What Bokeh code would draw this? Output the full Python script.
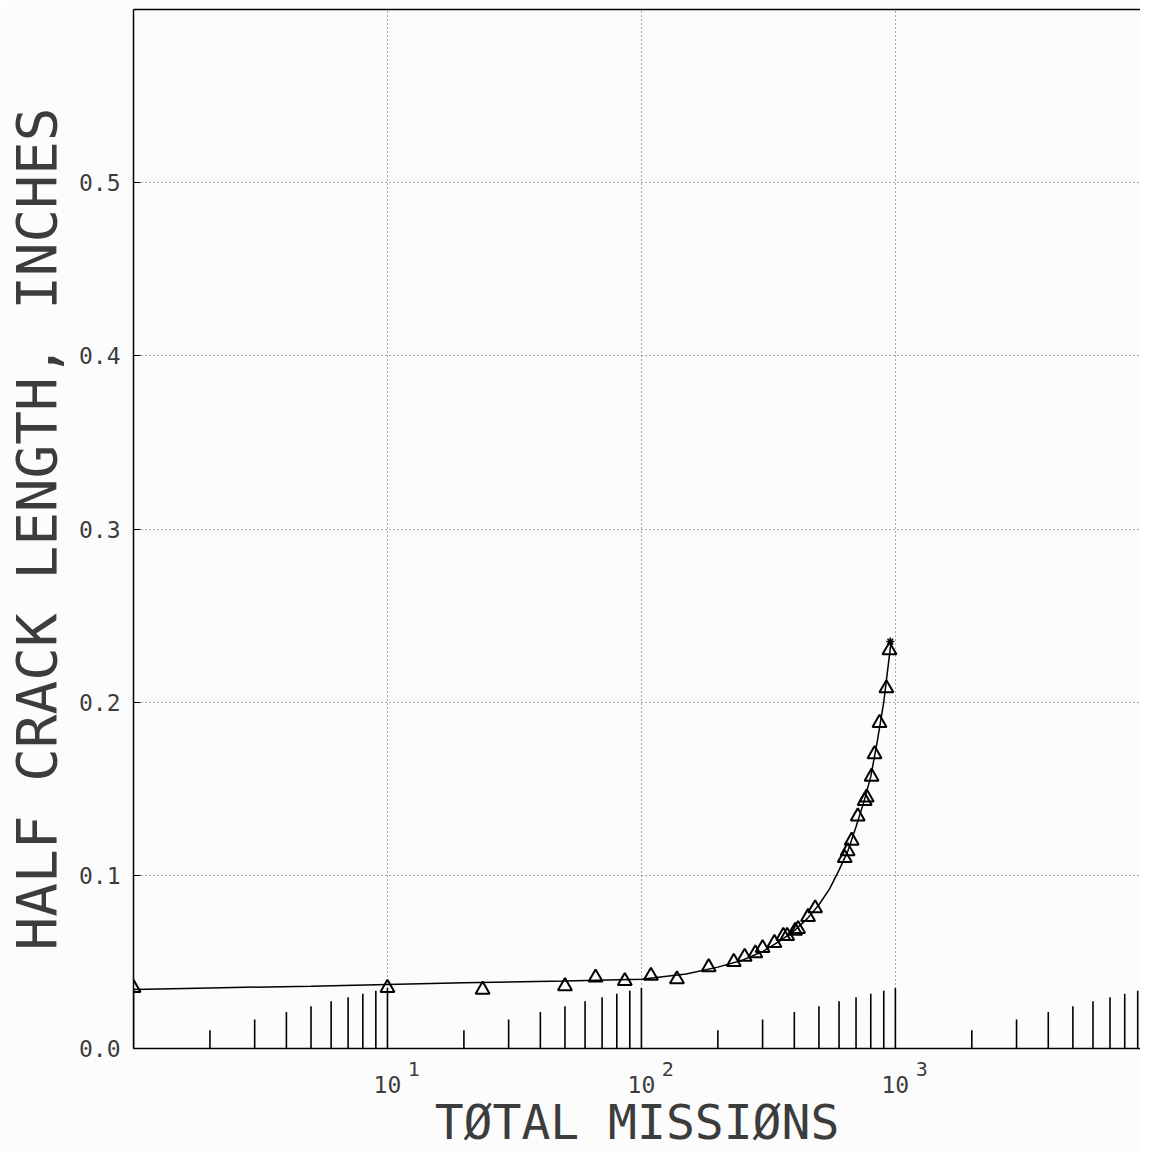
import math
from bokeh.plotting import figure
from bokeh.models import FixedTicker, LinearAxis, LogAxis
from bokeh.embed import file_html
from bokeh.resources import INLINE

# ---- data ----
point_missions = [1, 10, 23.7, 50, 66, 86, 109, 138, 184, 231, 255, 281, 300, 334,
                  362, 375, 403, 414, 453, 483, 632, 649, 673, 711, 757, 771, 806,
                  828, 866, 922, 948]
point_crack = [0.035, 0.035, 0.034, 0.036, 0.041, 0.039, 0.042, 0.040, 0.047, 0.050,
               0.053, 0.055, 0.058, 0.061, 0.065, 0.065, 0.068, 0.069, 0.076, 0.081,
               0.110, 0.114, 0.120, 0.134, 0.143, 0.145, 0.157, 0.170, 0.188, 0.208,
               0.230]
end_missions = [955]
end_crack = [0.235]

curve_missions = [1, 2, 5, 10, 20, 50, 100, 150, 200, 250, 300, 350, 400, 450, 500,
                  550, 600, 650, 700, 750, 800, 850, 900, 960]
curve_crack = [0.034, 0.035, 0.036, 0.037, 0.038, 0.039, 0.040, 0.043, 0.047, 0.051,
               0.056, 0.062, 0.068, 0.075, 0.083, 0.092, 0.103, 0.114, 0.128, 0.142,
               0.157, 0.178, 0.200, 0.234]

x_major_ticks = [10, 100, 1000]
x_tick_base = ["10", "10", "10"]
x_tick_exponents = ["1", "2", "3"]
y_ticks = [0.0, 0.1, 0.2, 0.3, 0.4, 0.5]
y_tick_labels = ["0.0", "0.1", "0.2", "0.3", "0.4", "0.5"]
decades = [1, 10, 100, 1000]
multipliers = [1, 2, 3, 4, 5, 6, 7, 8, 9]

FONT = "DejaVu Sans Mono"
TXT = "#3c3c3c"
BG = "#fcfcfc"
EXP_SHIFT = 1.27   # exponent drawn a little right of its decade tick

p = figure(width=1140, height=1152, x_axis_type="log",
           x_range=(1, 9230), y_range=(0, 0.6),
           output_backend="svg", toolbar_location=None,
           background_fill_color=BG, border_fill_color=BG,
           min_border_left=125, min_border_right=0, min_border_top=9,
           min_border_bottom=100)
p.outline_line_color = None

# grid
p.xgrid.ticker = FixedTicker(ticks=x_major_ticks)
p.ygrid.ticker = FixedTicker(ticks=y_ticks[1:])
for g in (p.xgrid, p.ygrid):
    g.grid_line_color = "#555555"
    g.grid_line_dash = "1 3"
    g.grid_line_width = 1

# x axis (nearest the frame): carries the axis line and the exponents
xa = p.xaxis[0]
exp_ticks = [t * EXP_SHIFT for t in x_major_ticks]
xa.ticker = FixedTicker(ticks=exp_ticks)
xa.major_label_overrides = {t: e for t, e in zip(exp_ticks, x_tick_exponents)}
xa.major_tick_in = 0
xa.major_tick_out = 0
xa.minor_tick_in = 0
xa.minor_tick_out = 0
xa.major_label_standoff = 13
xa.major_label_text_font = FONT
xa.major_label_text_font_size = "20px"
xa.major_label_text_color = TXT
xa.axis_line_color = "black"
xa.axis_line_width = 1.5

# second x axis: the "10" of each decade label and the title
xb = LogAxis(ticker=FixedTicker(ticks=x_major_ticks),
             major_label_overrides={t: b for t, b in zip(x_major_ticks, x_tick_base)},
             major_tick_in=0, major_tick_out=0, minor_tick_in=0, minor_tick_out=0,
             major_label_standoff=-3, major_label_text_font=FONT,
             major_label_text_font_size="23px", major_label_text_color=TXT,
             axis_line_color=None,
             axis_label="TØTAL MISSIØNS", axis_label_text_font=FONT,
             axis_label_text_font_size="48px", axis_label_text_font_style="normal",
             axis_label_text_color=TXT, axis_label_standoff=-2)
p.add_layout(xb, "below")

# y axis
ya = p.yaxis[0]
ya.ticker = FixedTicker(ticks=y_ticks)
ya.major_label_overrides = {t: l for t, l in zip(y_ticks, y_tick_labels)}
ya.major_tick_in = 7
ya.major_tick_out = 0
ya.minor_tick_in = 0
ya.minor_tick_out = 0
ya.major_tick_line_color = "black"
ya.major_label_standoff = 13
ya.major_label_text_font = FONT
ya.major_label_text_font_size = "23px"
ya.major_label_text_color = TXT
ya.axis_label = "HALF CRACK LENGTH, INCHES"
ya.axis_label_text_font = FONT
ya.axis_label_text_font_size = "56px"
ya.axis_label_text_font_style = "normal"
ya.axis_label_text_color = TXT
ya.axis_label_standoff = 7
ya.axis_line_color = "black"
ya.axis_line_width = 1.5

# top border as an empty axis
top = LinearAxis(axis_line_color="black", axis_line_width=1.5,
                 major_tick_in=0, major_tick_out=0, minor_tick_in=0, minor_tick_out=0,
                 major_label_text_font_size="0px", major_label_standoff=0,
                 ticker=FixedTicker(ticks=[]))
p.add_layout(top, "above")

# plotter-style tick marks rising from the x axis
tx, ty0, ty1 = [], [], []
for d in decades:
    for m in multipliers:
        tx.append(d * m)
        ty0.append(0.0)
        ty1.append(0.035 * (1.0 if m == 1 else math.log10(m)))
p.segment(x0=tx, y0=ty0, x1=tx, y1=ty1, line_color="black", line_width=1.6)

# fitted curve
p.line(curve_missions, curve_crack, line_color="black", line_width=1.5)

# test data points
p.scatter(point_missions, point_crack, marker="triangle", size=14,
          fill_color=None, line_color="black", line_width=2)
p.scatter(end_missions, end_crack, marker="asterisk", size=8,
          line_color="black", line_width=1.5)

open("out.html", "w").write(file_html(p, INLINE))
